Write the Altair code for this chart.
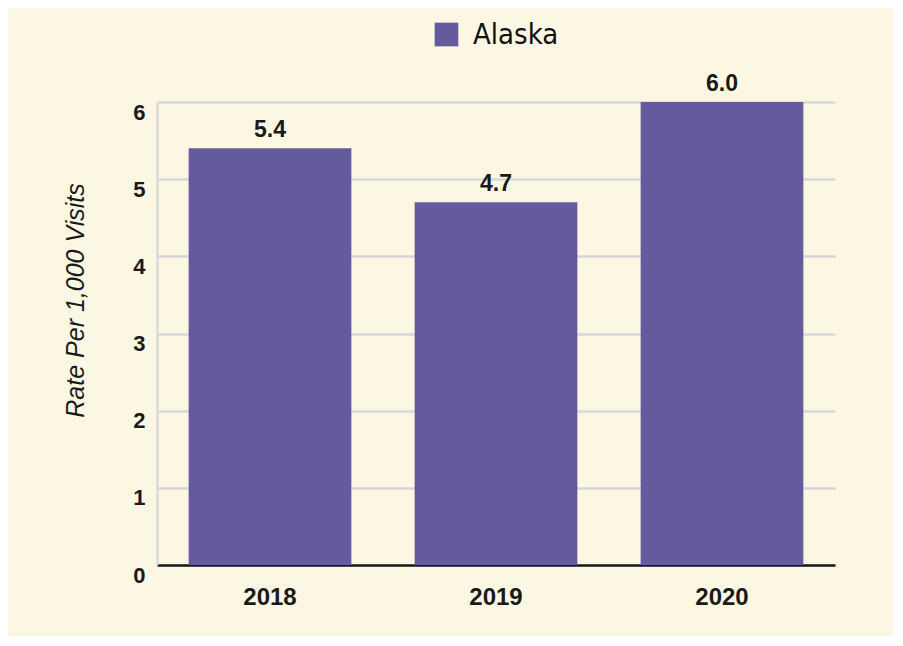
import altair as alt
import pandas as pd

years = ["2018", "2019", "2020"]
rates = [5.4, 4.7, 6.0]
series = ["Alaska", "Alaska", "Alaska"]
y_ticks = [0, 1, 2, 3, 4, 5, 6]

df = pd.DataFrame({"year": years, "rate": rates, "series": series})

base = alt.Chart(df)

bars = base.mark_bar(color="#655A9E").encode(
    x=alt.X("year:N",
            scale=alt.Scale(paddingInner=0.28, paddingOuter=0.14),
            axis=alt.Axis(title=None, labelAngle=0, labelFont="Liberation Sans",
                          labelFontWeight="bold", labelFontSize=24, labelColor="#1a1a1a",
                          labelPadding=20, ticks=False, domainColor="#1a1a1a",
                          domainWidth=2.5, grid=False)),
    y=alt.Y("rate:Q",
            scale=alt.Scale(domain=[0, 6], nice=False),
            axis=alt.Axis(values=y_ticks, format="d", title="Rate Per 1,000 Visits",
                          titleFont="Liberation Sans", titleFontStyle="italic",
                          titleFontWeight="normal", titleFontSize=25, titleColor="#1a1a1a",
                          titleAngle=270, titleX=-82, titleY=198, titleAlign="center",
                          titleBaseline="middle",
                          labelFont="Liberation Sans", labelFontWeight="bold",
                          labelFontSize=22, labelColor="#1a1a1a", labelPadding=12,
                          labelBaseline="top", labelFlush=False,
                          ticks=False, domainColor="#d4d4d8", domainWidth=2,
                          gridColor="#d8d8dc", gridWidth=2.5)),
    fill=alt.Fill("series:N",
                  scale=alt.Scale(range=["#655A9E"]),
                  legend=alt.Legend(title=None, orient="none", legendX=275, legendY=-82,
                                    symbolType="square", symbolSize=560,
                                    symbolStrokeWidth=0,
                                    labelFont="DejaVu Sans Condensed, Liberation Sans",
                                    labelFontSize=29, labelColor="#111111",
                                    labelOffset=12)),
)

labels = base.mark_text(baseline="bottom", dy=-6, font="Liberation Sans",
                        fontWeight="bold", fontSize=23, color="#1a1a1a").encode(
    x="year:N",
    y="rate:Q",
    text=alt.Text("rate:Q", format=".1f"),
)

chart = (bars + labels).properties(
    width=678, height=463,
    autosize=alt.AutoSizeParams(type="none"),
    padding={"left": 149, "top": 94, "right": 58, "bottom": 71},
    background="#FCF7E3",
).configure_view(stroke=None)

chart.save("out.html", embed_options={"renderer": "svg", "actions": False})
